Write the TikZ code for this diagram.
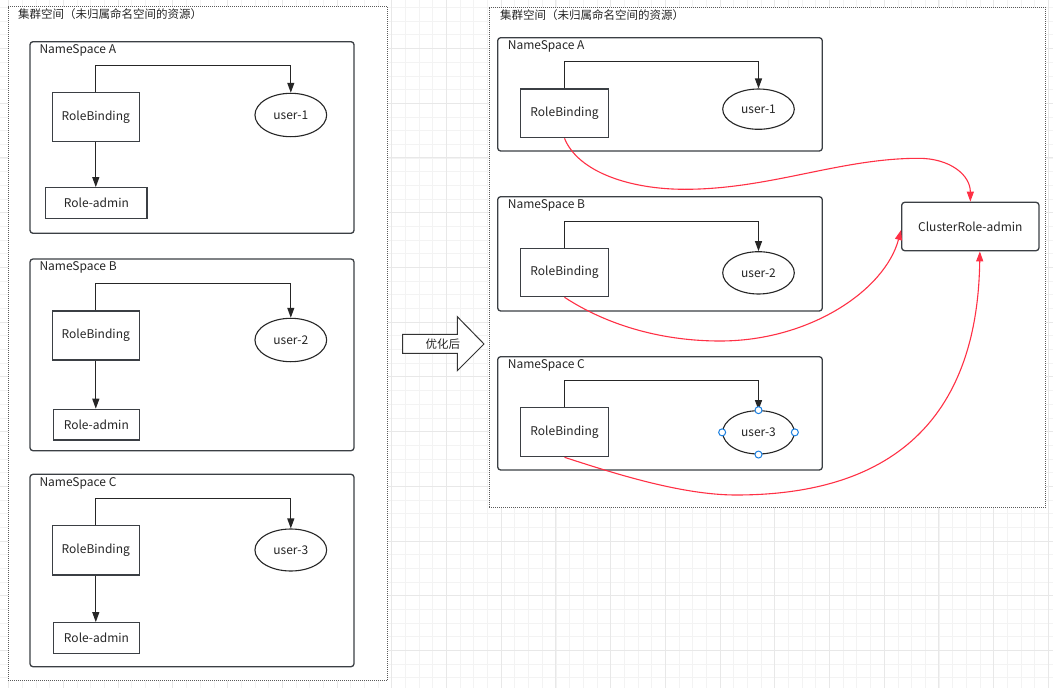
\documentclass[tikz,border=0pt]{standalone}
\usepackage{fontspec}
\setmainfont{Noto Sans CJK SC}
\usetikzlibrary{arrows.meta,shapes.geometric,calc}

\definecolor{boxline}{HTML}{3B3F44}
\definecolor{redline}{HTML}{FF3045}
\definecolor{gridminor}{HTML}{F3F3F3}
\definecolor{gridmajor}{HTML}{E8E8E8}
\definecolor{handleblue}{HTML}{1A7FE0}
\definecolor{dotline}{HTML}{5A5A5A}

\begin{document}
\begin{tikzpicture}[x=1pt,y=-1pt,
  font=\fontsize{12}{14}\selectfont,
  outerbox/.style={draw=dotline, fill=white, line width=1pt, dash pattern=on 1pt off 1pt, rectangle, inner sep=0pt},
  nsbox/.style={draw=boxline, fill=white, line width=1.3pt, rounded corners=3pt, rectangle, inner sep=0pt},
  rbbox/.style={draw=boxline, fill=white, line width=1.2pt, rectangle, inner sep=0pt, text=black!85},
  userell/.style={draw=black!85, fill=white, line width=1.1pt, ellipse, inner sep=0pt, text=black!85},
  crbox/.style={draw=boxline, fill=white, line width=1.3pt, rounded corners=3pt, rectangle, inner sep=0pt, text=black!85},
  lbl/.style={anchor=west, inner sep=0pt, text=black!85},
  titlelbl/.style={anchor=west, inner sep=0pt, text=black!85, font=\fontsize{11.5}{13}\selectfont},
  blackarr/.style={draw=black!85, line width=1.1pt, -{Triangle[length=10pt,width=7pt]}},
  redarr/.style={draw=redline, line width=1.1pt, -{Triangle[length=10pt,width=7pt]}},
  handle/.style={circle, draw=handleblue, fill=white, line width=1pt, minimum size=7pt, inner sep=0pt},
]
\useasboundingbox (0,0) rectangle (1053,688);
\fill[white] (0,0) rectangle (1053,688);
% background grid
\foreach \i in {0,...,76} {\draw[gridminor, line width=0.8pt] ({8.7+13.68*\i},0) -- ({8.7+13.68*\i},688);}
\foreach \i in {0,...,50} {\draw[gridminor, line width=0.8pt] (0,{7.5+13.68*\i}) -- (1053,{7.5+13.68*\i});}
\foreach \i in {0,...,19} {\draw[gridmajor, line width=0.9pt] ({8.7+54.72*\i},0) -- ({8.7+54.72*\i},688);}
\foreach \i in {0,...,11} {\draw[gridmajor, line width=0.9pt] (0,{48.5+54.72*\i}) -- (1053,{48.5+54.72*\i});}

% ===== left cluster =====
\node[outerbox, minimum width=379.4pt, minimum height=673.8pt] (outerL) at (198,343.6) {};
\node[titlelbl] (titleL) at (18,14.5) {集群空间（未归属命名空间的资源）};

\node[nsbox, minimum width=324pt, minimum height=191.6pt] (nsLA) at (192,137.5) {};
\node[lbl] (nsLAt) at (39.3,50) {NameSpace A};
\node[rbbox, minimum width=87pt, minimum height=49pt] (rbLA) at (95.8,117.2) {RoleBinding};
\node[userell, minimum width=71.7pt, minimum height=43.4pt] (uLA) at (290.8,115) {user-1};
\node[rbbox, minimum width=101.3pt, minimum height=30.6pt] (raLA) at (96.35,203) {Role-admin};
\draw[blackarr] (rbLA.north) -- ++(0,-26.5) -| (uLA.north);
\draw[blackarr] (rbLA.south) -- (rbLA.south |- raLA.north);

\node[nsbox, minimum width=324pt, minimum height=191.7pt] (nsLB) at (192,354.85) {};
\node[lbl] (nsLBt) at (39.3,267) {NameSpace B};
\node[rbbox, minimum width=87pt, minimum height=49pt] (rbLB) at (95.8,335.5) {RoleBinding};
\node[userell, minimum width=71.7pt, minimum height=43.4pt] (uLB) at (290.8,340) {user-2};
\node[rbbox, minimum width=86pt, minimum height=30.7pt] (raLB) at (96.3,424.65) {Role-admin};
\draw[blackarr] (rbLB.north) -- ++(0,-26.5) -| (uLB.north);
\draw[blackarr] (rbLB.south) -- (rbLB.south |- raLB.north);

\node[nsbox, minimum width=324pt, minimum height=192.4pt] (nsLC) at (192,570.5) {};
\node[lbl] (nsLCt) at (39.3,483.3) {NameSpace C};
\node[rbbox, minimum width=87pt, minimum height=49.3pt] (rbLC) at (95.8,550.3) {RoleBinding};
\node[userell, minimum width=71.7pt, minimum height=42pt] (uLC) at (290.8,550) {user-3};
\node[rbbox, minimum width=86.4pt, minimum height=30.6pt] (raLC) at (96.5,638) {Role-admin};
\draw[blackarr] (rbLC.north) -- ++(0,-26.5) -| (uLC.north);
\draw[blackarr] (rbLC.south) -- (rbLC.south |- raLC.north);

% ===== transition arrow =====
\draw[draw=black!80, fill=white, line width=1pt, line join=miter] (402.7,334.3) -- (457.3,334.3) -- (457.3,316.7) -- (484,344) -- (457.3,370.7) -- (457.3,353.3) -- (402.7,353.3) -- cycle;
\node[inner sep=0pt, text=black!85, font=\fontsize{11.5}{13}\selectfont] (opt) at (442.9,344) {优化后};

% ===== right cluster =====
\node[outerbox, minimum width=556.5pt, minimum height=500.3pt] (outerR) at (767.25,257.15) {};
\node[titlelbl] (titleR) at (500,15) {集群空间（未归属命名空间的资源）};

\node[nsbox, minimum width=324.6pt, minimum height=113.3pt] (nsRA) at (660,94.35) {};
\node[lbl] (nsRAt) at (507.7,46) {NameSpace A};
\node[rbbox, minimum width=87.6pt, minimum height=48.7pt] (rbRA) at (564.5,113.35) {RoleBinding};
\node[userell, minimum width=71.6pt, minimum height=40.3pt] (uRA) at (758.5,109.15) {user-1};
\draw[blackarr] (rbRA.north) -- ++(0,-26.5) -| (uRA.north);

\node[nsbox, minimum width=324.6pt, minimum height=114.3pt] (nsRB) at (660,253.85) {};
\node[lbl] (nsRBt) at (507.7,205) {NameSpace B};
\node[rbbox, minimum width=87.6pt, minimum height=48pt] (rbRB) at (564.5,272.7) {RoleBinding};
\node[userell, minimum width=71.6pt, minimum height=42.3pt] (uRB) at (758.5,272.85) {user-2};
\draw[blackarr] (rbRB.north) -- ++(0,-26.5) -| (uRB.north);

\node[nsbox, minimum width=324.6pt, minimum height=113.3pt] (nsRC) at (660,413.35) {};
\node[lbl] (nsRCt) at (507.7,365) {NameSpace C};
\node[rbbox, minimum width=87.6pt, minimum height=49pt] (rbRC) at (564.5,432.2) {RoleBinding};
\node[userell, minimum width=71.6pt, minimum height=43.3pt] (uRC) at (758.5,432.35) {user-3};
\draw[blackarr] (rbRC.north) -- ++(0,-26.5) -| (uRC.north);

\node[crbox, minimum width=137.3pt, minimum height=48.4pt] (cr) at (970.35,226.5) {ClusterRole-admin};

% red bindings to the cluster role
\draw[redarr] (rbRA.south) .. controls (578,172) and (630,189.3) .. (684.7,189.3)
  .. controls (770,189.3) and (840,158.3) .. (918.6,158.3)
  .. controls (950,158.3) and (970.35,175) .. (cr.north);
\draw[redarr] (rbRB.south) .. controls (610,327) and (665,341) .. (720,341)
  .. controls (810,341) and (885,290) .. ([yshift=-3.5pt]cr.west);
\draw[redarr] (rbRC.south) .. controls (610,472) and (680,495) .. (736,495)
  .. controls (920,495) and (978,390) .. ([xshift=9.5pt]cr.south);

% selection handles on user-3
\node[handle] (hN) at (uRC.north) {};
\node[handle] (hS) at (uRC.south) {};
\node[handle] (hE) at (uRC.east) {};
\node[handle] (hW) at (uRC.west) {};
\end{tikzpicture}
\end{document}
